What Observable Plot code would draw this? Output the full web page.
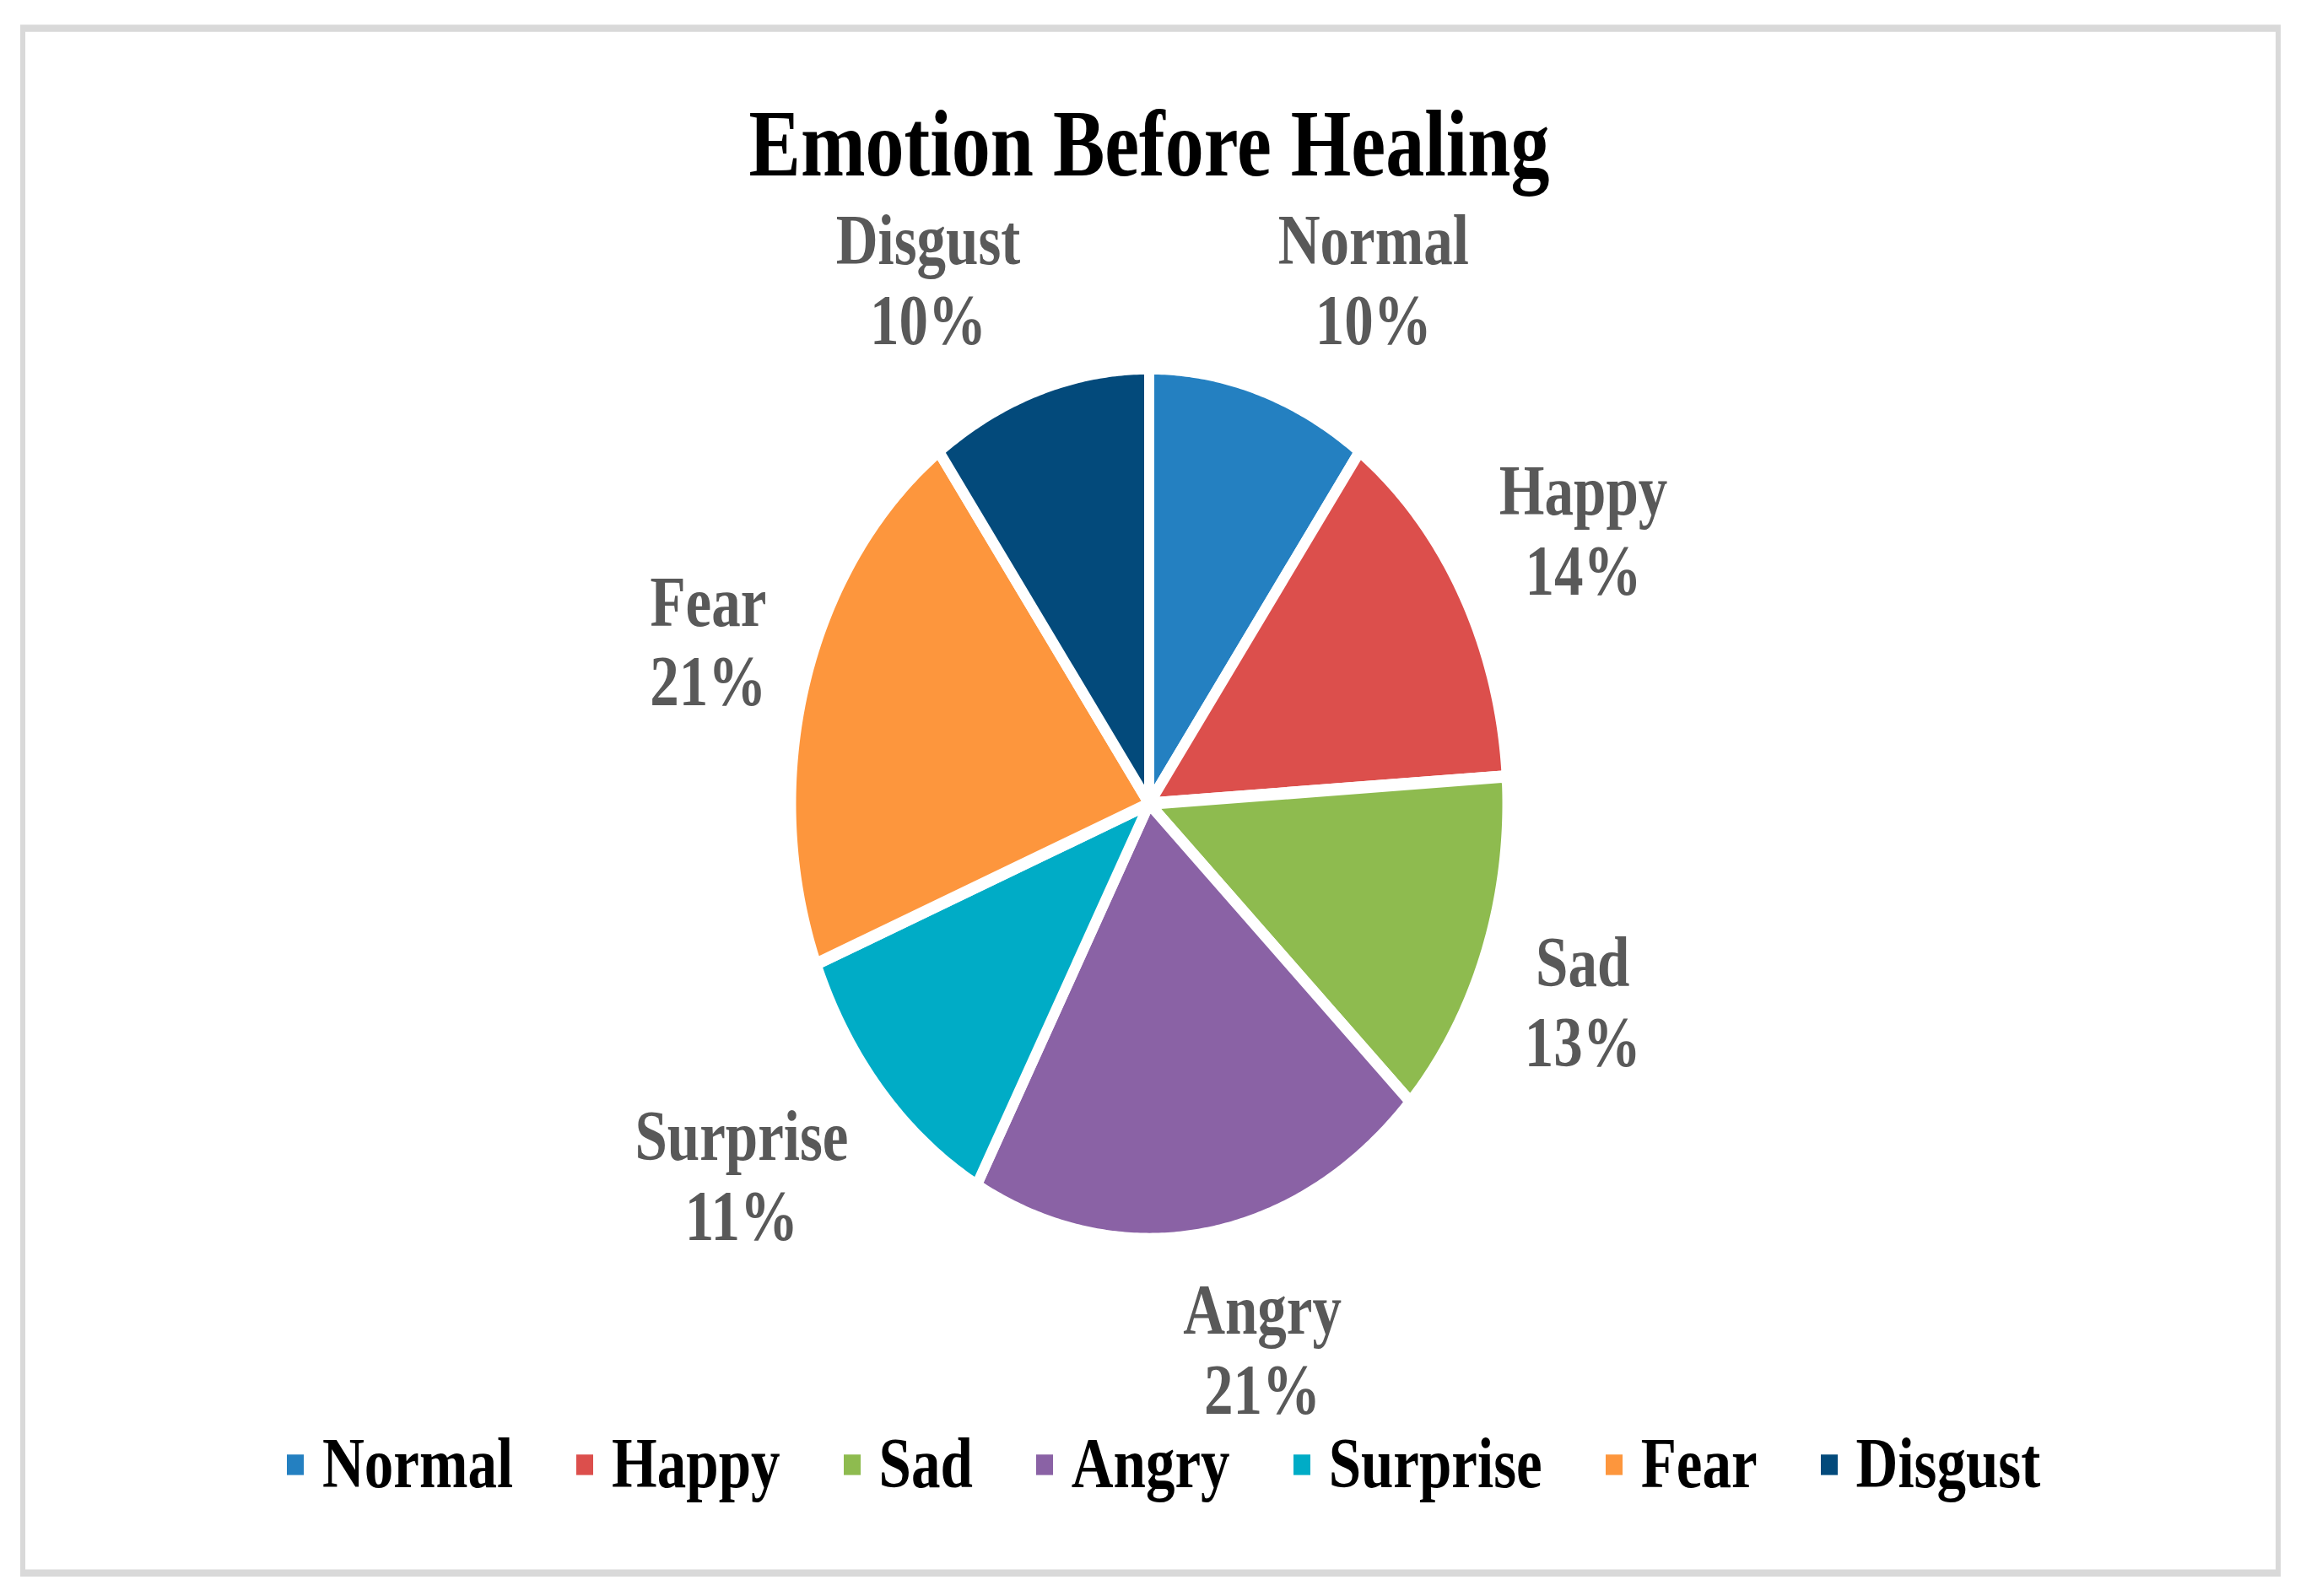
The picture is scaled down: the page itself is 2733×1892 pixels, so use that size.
<!DOCTYPE html>
<html>
<head>
<meta charset="utf-8">
<script src="https://cdn.jsdelivr.net/npm/d3@7"></script>
<script src="https://cdn.jsdelivr.net/npm/@observablehq/plot@0.6"></script>
<style>
  html, body { margin: 0; padding: 0; background: #ffffff; }
  body { width: 2733px; height: 1892px; overflow: hidden; position: relative; }
  #wrap { position: absolute; left: 0; top: 0; width: 2733px; height: 1556px;
          transform-origin: 0 0; transform: scale(1, 1.216); }
  #frame { position: absolute; left: 24px; top: 24px; width: 2679px; height: 1513px;
           box-sizing: border-box; border-style: solid; border-color: #d9d9d9; border-width: 7px 6px; }
  #title { position: absolute; left: 0; top: 94px; width: 2724px; text-align: center;
           font-family: "Liberation Serif", "Times New Roman", serif; font-weight: bold;
           font-size: 92px; line-height: 92px; color: #000; white-space: nowrap; }
  #chart { position: absolute; left: 0; top: 200px; }
  #legend { position: absolute; left: 340px; top: 1393px; display: flex; align-items: center;
            font-family: "Liberation Serif", "Times New Roman", serif; font-weight: bold;
            font-size: 69px; line-height: 69px; color: #000; white-space: nowrap; }
  .item { display: flex; align-items: center; margin-right: 75px; }
  .item:last-child { margin-right: 0; }
  .sw { width: 20px; height: 20px; margin-right: 22px; flex: none; }
</style>
</head>
<body>
<div id="wrap">
  <div id="frame"></div>
  <div id="title"></div>
  <div id="chart"></div>
  <div id="legend"></div>
</div>
<script>
// ---- data ----
const categories = ["Normal", "Happy", "Sad", "Angry", "Surprise", "Fear", "Disgust"];
const percents = [10, 14, 13, 21, 11, 21, 10];
const colors = ["#2480c1", "#dc4f4c", "#8ebb4f", "#8a62a5", "#00acc6", "#fd963d", "#034a7b"];
const titleText = "Emotion Before Healing";

// ---- layout ----
const W = 2733, H = 1190, CX = 1361.5, CY = 583, R = 424.5;
const labelFont = "bold 69px 'Liberation Serif'";

document.getElementById("title").textContent = titleText;

const rows = categories.map((name, i) => ({name, value: percents[i]}));
const arcs = d3.pie().sort(null).value(d => d.value)(rows);

// polygon points for each slice (unit circle)
const slicePts = [];
arcs.forEach(a => {
  slicePts.push({name: a.data.name, x: 0, y: 0});
  const n = Math.max(2, Math.ceil((a.endAngle - a.startAngle) / (Math.PI / 360)));
  for (let k = 0; k <= n; k++) {
    const t = a.startAngle + (a.endAngle - a.startAngle) * k / n;
    slicePts.push({name: a.data.name, x: Math.sin(t), y: Math.cos(t)});
  }
});

// labels outside the pie ("outside end" style placement)
const ctx = document.createElement("canvas").getContext("2d");
ctx.font = labelFont;
const rP = 462 / R;
const labels = arcs.map(a => {
  const t = (a.startAngle + a.endAngle) / 2;
  const lines = [a.data.name, a.data.value + "%"];
  const w = Math.max(...lines.map(s => ctx.measureText(s).width));
  const s = Math.sin(t), c = Math.cos(t);
  const kx = Math.min(1, 3.8 * Math.abs(s));
  const ky = Math.pow(Math.abs(c), 0.7);
  return {
    text: lines.join("\n"),
    x: rP * s + Math.sign(s) * kx * (w / 2 + 10) / R,
    y: rP * c + Math.sign(c) * ky * 75 / R
  };
});

const svg = Plot.plot({
  width: W,
  height: H,
  margin: 0,
  x: {domain: [-CX / R, (W - CX) / R], range: [0, W], axis: null},
  y: {domain: [-(H - CY) / R, CY / R], range: [H, 0], axis: null},
  color: {domain: categories, range: colors},
  style: {background: "transparent", overflow: "visible"},
  marks: [
    Plot.line(slicePts, {
      x: "x", y: "y", z: "name", fill: "name",
      stroke: "white", strokeWidth: 12, strokeLinejoin: "round",
      curve: "linear-closed"
    }),
    Plot.text(labels, {
      x: "x", y: "y", text: "text",
      fontSize: 69, fontWeight: "bold", fontFamily: "Liberation Serif",
      fill: "#595959", lineHeight: 1.13,
      textAnchor: "middle", lineAnchor: "middle"
    })
  ]
});
document.getElementById("chart").appendChild(svg);

// legend
const legend = document.getElementById("legend");
categories.forEach((name, i) => {
  const item = document.createElement("div");
  item.className = "item";
  const sw = document.createElement("div");
  sw.className = "sw";
  sw.style.background = colors[i];
  const lab = document.createElement("span");
  lab.textContent = name;
  item.appendChild(sw);
  item.appendChild(lab);
  legend.appendChild(item);
});
</script>
</body>
</html>
